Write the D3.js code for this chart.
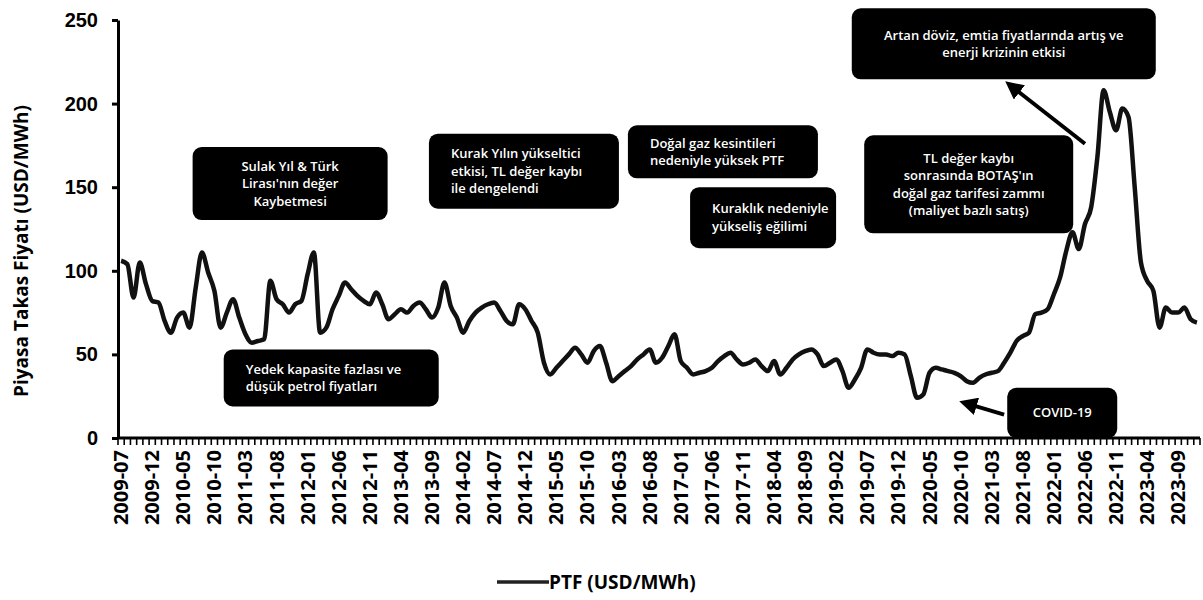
<!DOCTYPE html>
<html>
<head>
<meta charset="utf-8">
<script src="https://cdn.jsdelivr.net/npm/d3@7"></script>
<style>
  html, body { margin: 0; padding: 0; background: #fff; }
  svg { display: block; font-family: "Open Sans", "DejaVu Sans", sans-serif; }
</style>
</head>
<body>
<svg id="chart" width="1203" height="600"></svg>
<script>
// Monthly PTF (USD/MWh), July 2009 – December 2023
const startMonth = "2009-07";
const monthCount = 174;

const ptf = [
  106, 104, 84, 105, 92, 82, 81, 70, 63, 72, 75, 66,          // 2009-07 .. 2010-06
  90, 111, 99, 88, 66, 75, 83, 72, 62, 57, 58, 59,            // 2010-07 .. 2011-06
  94, 83, 80, 75, 80, 82, 98, 111, 63, 66, 77, 85,            // 2011-07 .. 2012-06
  93, 89, 85, 82, 80, 87, 80, 71, 74, 77, 75, 79,             // 2012-07 .. 2013-06
  81, 77, 72, 78, 93, 79, 72, 63, 70, 75, 78, 80,             // 2013-07 .. 2014-06
  81, 76, 70, 68, 80, 77, 70, 63, 45, 38, 42, 46,             // 2014-07 .. 2015-06
  50, 54, 50, 45, 52, 55, 45, 34, 37, 40, 43, 47,             // 2015-07 .. 2016-06
  50, 53, 45, 48, 55, 62, 46, 42, 38, 39, 40, 42,             // 2016-07 .. 2017-06
  46, 49, 51, 47, 44, 45, 47, 43, 40, 46, 38, 42,             // 2017-07 .. 2018-06
  47, 50, 52, 53, 50, 43, 45, 47, 40, 30, 35, 42,             // 2018-07 .. 2019-06
  53, 51, 50, 50, 49, 51, 50, 37, 24, 26, 39, 42,             // 2019-07 .. 2020-06
  41, 40, 39, 37, 34, 33, 36, 38, 39, 40, 45, 51,             // 2020-07 .. 2021-06
  58, 61, 63, 74, 75, 77, 86, 96, 112, 123, 113, 128,         // 2021-07 .. 2022-06
  138, 168, 208, 195, 184, 197, 192, 150, 105, 94, 88, 66,    // 2022-07 .. 2023-06
  78, 75, 75, 78, 71, 69                                      // 2023-07 .. 2023-12
];

const yTicks = [0, 50, 100, 150, 200, 250];
const labelEvery = 5;

const yTitle = "Piyasa Takas Fiyatı (USD/MWh)";
const legendLabel = "PTF (USD/MWh)";

// Callouts: month at the box's left edge, value at its top edge, box size, text lines
const callouts = [
  { at: "2010-07", top: 174, w: 195, h: 73, align: "middle",
    lines: ["Sulak Yıl & Türk", "Lirası'nın değer", "Kaybetmesi"] },
  { at: "2013-09", top: 182, w: 190, h: 75, align: "start",
    lines: ["Kurak Yılın yükseltici", "etkisi, TL değer kaybı", "ile dengelendi"] },
  { at: "2016-05", top: 187, w: 190, h: 53, align: "start",
    lines: ["Doğal gaz kesintileri", "nedeniyle yüksek PTF"] },
  { at: "2017-03", top: 150, w: 146, h: 61, align: "start",
    lines: ["Kuraklık nedeniyle", "yükseliş eğilimi"] },
  { at: "2019-07", top: 181, w: 209, h: 98, align: "middle",
    lines: ["TL değer kaybı", "sonrasında BOTAŞ'ın", "doğal gaz tarifesi zammı", "(maliyet bazlı satış)"] },
  { at: "2019-05", top: 257, w: 304, h: 71, align: "middle",
    lines: ["Artan döviz, emtia fiyatlarında artış ve", "enerji krizinin etkisi"] },
  { at: "2010-12", top: 53, w: 215, h: 57, align: "start",
    lines: ["Yedek kapasite fazlası ve", "düşük petrol fiyatları"] },
  { at: "2021-06", top: 30, w: 110, h: 50, align: "middle",
    lines: ["COVID-19"] }
];

// Arrows: from [month, value] to [month, value]
const arrows = [
  { from: ["2022-06", 176], to: ["2021-07", 208] },
  { from: ["2021-05", 14], to: ["2020-12", 19.5] }
];

const svg = d3.select("#chart");
const margin = { left: 118, right: 3, top: 20, bottom: 162 };
const W = +svg.attr("width"), H = +svg.attr("height");

const parse = d3.utcParse("%Y-%m");
const fmt = d3.utcFormat("%Y-%m");
const months = d3.utcMonth.range(parse(startMonth), d3.utcMonth.offset(parse(startMonth), monthCount)).map(fmt);

const x = d3.scaleBand().domain(months).range([margin.left, W - margin.right]).padding(0);
const y = d3.scaleLinear().domain([0, 250]).range([H - margin.bottom, margin.top]);
const cx = m => x(m) + x.bandwidth() / 2;

// Y axis
const yAxis = svg.append("g").attr("transform", `translate(${margin.left},0)`)
  .call(d3.axisLeft(y).tickValues(yTicks).tickSize(6).tickPadding(14).tickSizeOuter(0));
yAxis.select(".domain").attr("stroke", "#000").attr("stroke-width", 3);
yAxis.selectAll(".tick line").attr("stroke", "#000").attr("stroke-width", 3);
yAxis.selectAll(".tick text").attr("font-size", 20).attr("font-weight", 700).attr("fill", "#000");

// X axis: tick at every month boundary, label every fifth month
const xAxisG = svg.append("g").attr("transform", `translate(0,${y(0)})`);
xAxisG.append("line")
  .attr("x1", margin.left).attr("x2", W - margin.right)
  .attr("stroke", "#000").attr("stroke-width", 3);
xAxisG.selectAll("line.tk").data(months.concat(["end"])).join("line")
  .attr("class", "tk")
  .attr("x1", (d, i) => margin.left + i * x.bandwidth())
  .attr("x2", (d, i) => margin.left + i * x.bandwidth())
  .attr("y1", 0).attr("y2", 7)
  .attr("stroke", "#000").attr("stroke-width", 1.6);
xAxisG.selectAll("text").data(months.filter((d, i) => i % labelEvery === 0)).join("text")
  .attr("transform", d => `translate(${cx(d) + 7},12) rotate(-90)`)
  .attr("text-anchor", "end")
  .attr("font-size", 20).attr("font-weight", 700).attr("fill", "#000")
  .text(d => d);

// Y title
svg.append("text")
  .attr("transform", `translate(28,${(y(0) + y(250)) / 2 + 22}) rotate(-90)`)
  .attr("text-anchor", "middle")
  .attr("font-size", 19).attr("font-weight", 700).attr("fill", "#000")
  .text(yTitle);

// Series line
const line = d3.line().x((d, i) => cx(months[i])).y(d => y(d)).curve(d3.curveMonotoneX);
svg.append("path").datum(ptf)
  .attr("fill", "none").attr("stroke", "#111").attr("stroke-width", 4.5)
  .attr("stroke-linejoin", "round").attr("d", line);

// Callout boxes
const boxes = svg.append("g");
callouts.forEach(c => {
  const bx = x(c.at), by = y(c.top);
  const g = boxes.append("g").attr("transform", `translate(${bx},${by})`);
  g.append("rect").attr("width", c.w).attr("height", c.h).attr("rx", 9).attr("fill", "#000");
  const lh = 17.5;
  const y0 = c.h / 2 - (c.lines.length - 1) * lh / 2 + 4.5;
  const tx = c.align === "middle" ? c.w / 2 : 22;
  c.lines.forEach((t, i) => {
    g.append("text").attr("x", tx).attr("y", y0 + i * lh)
      .attr("text-anchor", c.align)
      .attr("font-size", 13).attr("font-weight", 600).attr("fill", "#fff")
      .text(t);
  });
});

// Arrows
svg.append("defs").append("marker")
  .attr("id", "head").attr("viewBox", "0 0 10 10").attr("refX", 2).attr("refY", 5)
  .attr("markerWidth", 4.5).attr("markerHeight", 4.5).attr("orient", "auto-start-reverse")
  .append("path").attr("d", "M0,0L10,5L0,10z").attr("fill", "#000");
arrows.forEach(a => {
  svg.append("line")
    .attr("x1", cx(a.from[0])).attr("y1", y(a.from[1]))
    .attr("x2", cx(a.to[0])).attr("y2", y(a.to[1]))
    .attr("stroke", "#000").attr("stroke-width", 4)
    .attr("marker-end", "url(#head)");
});

// Legend
const lg = svg.append("g").attr("transform", "translate(497,582)");
lg.append("line").attr("x1", 0).attr("x2", 52).attr("stroke", "#222").attr("stroke-width", 3.5);
lg.append("text").attr("x", 52).attr("y", 7)
  .attr("font-size", 19).attr("font-weight", 700).attr("fill", "#000")
  .text(legendLabel);
</script>
</body>
</html>
